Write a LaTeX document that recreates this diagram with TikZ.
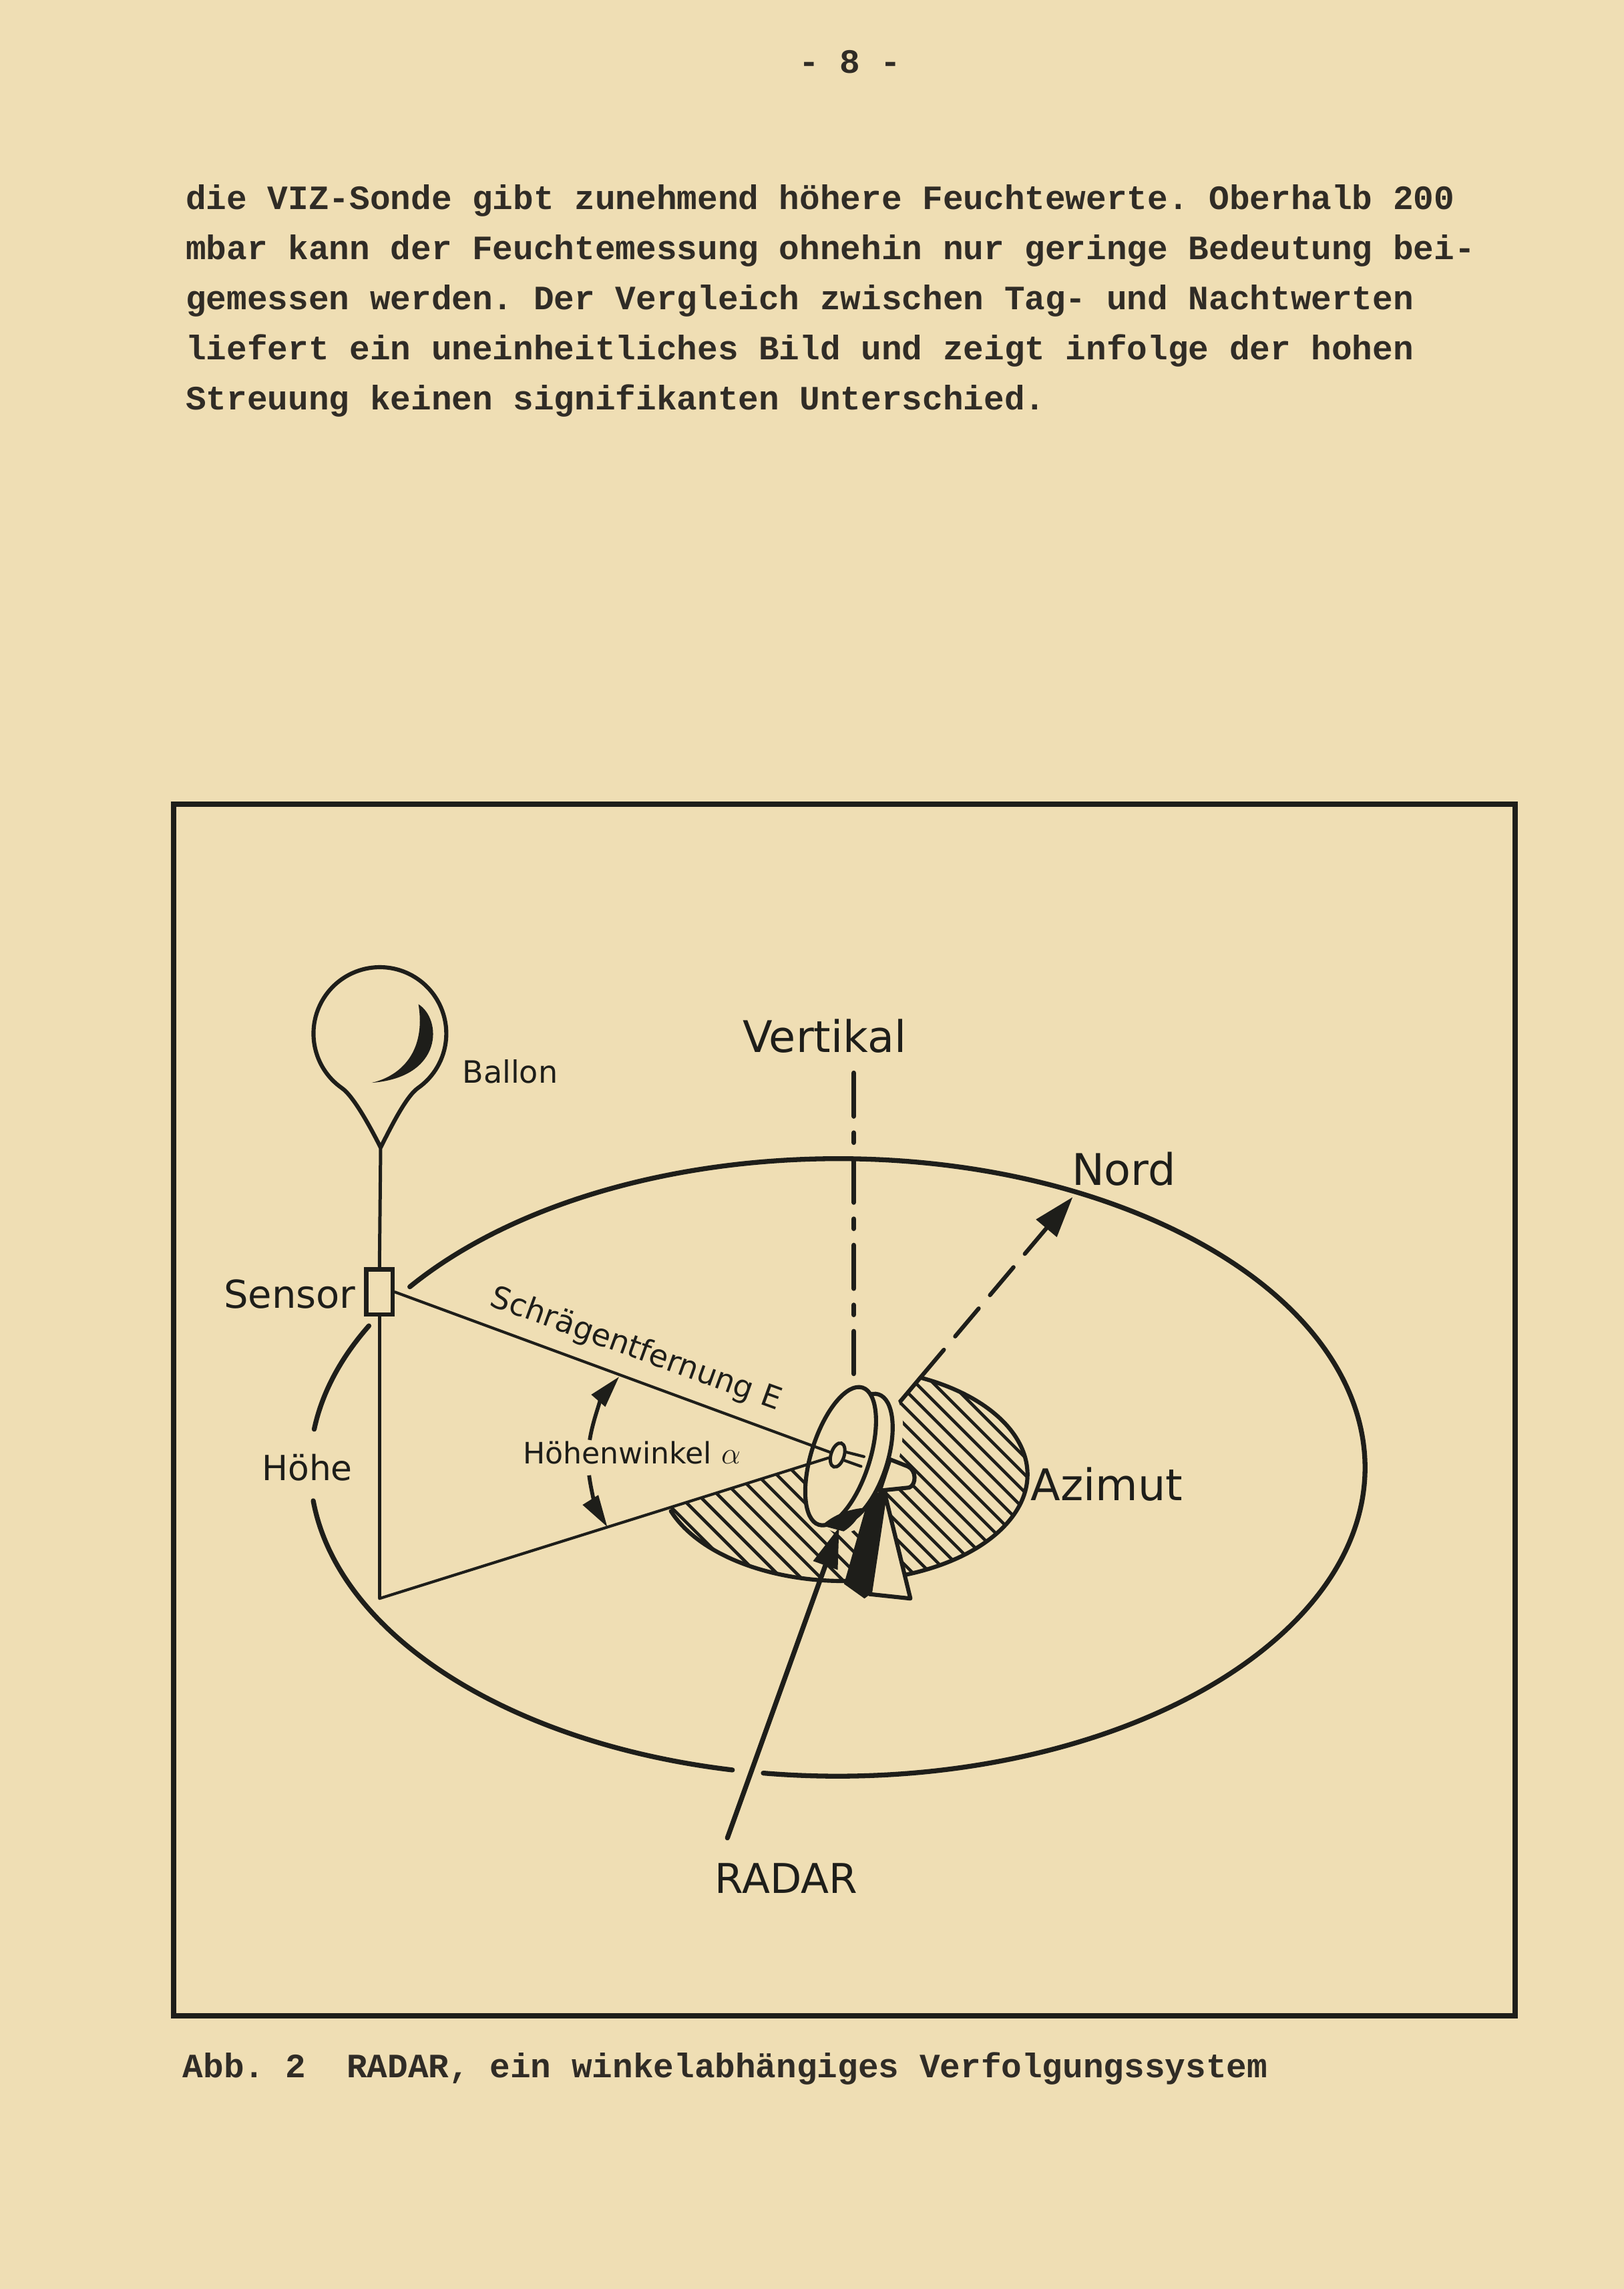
\documentclass[tikz,border=0pt]{standalone}
\usepackage{fontspec}
\setmainfont{DejaVu Sans}
\newfontfamily\typewriter{Liberation Mono}
\usetikzlibrary{arrows.meta,shapes.geometric}
\definecolor{paper}{RGB}{239,222,180}
\definecolor{ink}{RGB}{30,30,26}
\definecolor{typeink}{RGB}{48,44,38}
\tikzset{inkheavy/.style={line width=1.9pt,draw=ink,line cap=round},
  inkmid/.style={line width=1.6pt,draw=ink,line cap=round,line join=round},
  inkthin/.style={line width=1.1pt,draw=ink,line cap=round},
  hatchln/.style={line width=1.2pt,draw=ink},
  lbl/.style={inner sep=0pt,text=ink},
  typed/.style={inner sep=0pt,text=typeink,anchor=base west,font=\typewriter\bfseries\frenchspacing\fontsize{13.3}{16}\selectfont}}

\begin{document}
\begin{tikzpicture}[x=0.02cm,y=-0.02cm]
\fill[paper] (0,0) rectangle (1112.7,1568);
\node[typed] (pagenum) at (547,50.2) {- 8 -};
\node[typed] (line1) at (127,143.3) {die VIZ-Sonde gibt zunehmend höhere Feuchtewerte. Oberhalb 200};
\node[typed] (line2) at (127,177.6) {mbar kann der Feuchtemessung ohnehin nur geringe Bedeutung bei-};
\node[typed] (line3) at (127,211.9) {gemessen werden. Der Vergleich zwischen Tag- und Nachtwerten};
\node[typed] (line4) at (127,246.2) {liefert ein uneinheitliches Bild und zeigt infolge der hohen};
\node[typed] (line5) at (127,280.5) {Streuung keinen signifikanten Unterschied.};
\node[typed] (caption) at (125,1423) {Abb. 2~~RADAR, ein winkelabhängiges Verfolgungssystem};

\draw[line width=2pt,draw=ink] (119,551) rectangle (1038,1381);

% ground ellipse
\coordinate (field) at (573.9,1005.2);
\draw[inkheavy] (field) ++(-144.2:361.4 and 211.5) arc[start angle=-144.2,end angle=98.1,x radius=361.4,y radius=211.5];
\draw[inkheavy] (field) ++(101.5:361.4 and 211.5) arc[start angle=101.5,end angle=173.8,x radius=361.4,y radius=211.5];
\draw[inkheavy] (field) ++(187.1:361.4 and 211.5) arc[start angle=187.1,end angle=207.3,x radius=361.4,y radius=211.5];

% balloon
\coordinate (neck) at (260.8,786);
\coordinate (foot) at (260,1095);
\draw[inkmid,fill=paper] (neck) .. controls (254,772.6) and (242.4,751) .. (234.2,745.3)
  arc[start angle=125,end angle=415,radius=45.5]
  .. controls (278.2,751) and (267.6,772.6) .. (neck);
\fill[ink] (286.7,687.9) .. controls (303,698) and (304,738) .. (254.7,741.7)
  .. controls (275,737) and (292,720) .. (286.7,687.9) -- cycle;
\node[draw=ink,line width=1.7pt,fill=paper,minimum width=0.36cm,minimum height=0.62cm,inner sep=0pt] (sensor) at (260,885) {};
\draw[line width=1.3pt,draw=ink] (neck) -- (sensor.north);
\draw[line width=1.3pt,draw=ink] (sensor.south) -- (foot);

% azimuth sectors
\coordinate (azc) at (578,1010);
\coordinate (az) at (589,993);
\coordinate (north) at (735,820);
\coordinate (azedge) at (630.6,943.7);
\begin{scope}
  \clip (azc) ellipse [x radius=126,y radius=73];
  \clip (250,1098.1) -- (az) -- (589,1200) -- (250,1200) -- cycle;
  \foreach \k in {-640,-626.5,...,-390}
    \draw[hatchln] (\k+900,900) -- (\k+1100,1100);
\end{scope}
\begin{scope}
  \clip (azc) ellipse [x radius=126,y radius=73];
  \clip (az) -- (north) -- (900,820) -- (900,1200) -- (589,1200) -- cycle;
  \foreach \k in {-500,-488,...,-220}
    \draw[hatchln] (\k+900,900) -- (\k+1100,1100);
\end{scope}
\draw[inkmid] (azc) ++(-65.3:126 and 73) arc[start angle=-65.3,end angle=159.9,x radius=126,y radius=73];
\draw[inkmid] (az) -- (azedge);
\draw[inkmid,dash pattern=on 0.5cm off 0.24cm,-{Triangle[length=0.56cm,width=0.36cm]}] (azedge) -- (north);

% vertical
\coordinate (vtop) at (585,735);
\coordinate (vbot) at (585,941);
\draw[inkheavy,dash pattern=on 0.593cm off 0.227cm on 0.133cm off 0.227cm] (vtop) -- (vbot);

% radar
\draw[line width=8pt,draw=paper,rotate around={-17.7:(588,999)}] (588,999) ellipse [x radius=20,y radius=46];
\draw[inkmid,fill=paper] (609.8,999.7) -- (622,1004.5) .. controls (628,1007) and (628,1017) .. (623,1019) -- (602.8,1021.1) -- cycle;
\draw[inkmid,fill=paper] (606,1022) -- (623.8,1095) -- (595.8,1092) -- cycle;
\fill[ink] (596,1023) -- (608,1021.5) -- (597.6,1091) -- (592.3,1095) -- (578.3,1085) -- cycle;
\draw[inkmid,fill=paper,rotate around={-17.7:(588,999)}] (588,999) ellipse [x radius=20,y radius=46];
\draw[inkmid,fill=paper,rotate around={-17.7:(576,997.5)}] (576,997.5) ellipse [x radius=20,y radius=49.3];
\fill[ink] (563,1045) .. controls (572,1037) and (582,1034) .. (591,1033) .. controls (588,1041) and (583,1046) .. (578,1049) -- cycle;
\draw[inkthin] (579,994.5) -- (592,997.8);
\draw[inkthin] (578.8,1000.5) -- (590,1004.5);
\node[draw=ink,line width=1.3pt,fill=paper,ellipse,minimum width=0.18cm,minimum height=0.34cm,inner sep=0pt,rotate=-17.7] (feed) at (573.9,996.7) {};
\draw[inkthin] (sensor.east) -- (feed);
\draw[inkthin] (foot) -- (feed);
\coordinate (rfoot) at (498.4,1259);
\coordinate (rtip) at (575,1046);
\draw[inkheavy,-{Triangle[length=0.56cm,width=0.34cm]}] (rfoot) -- (rtip);

% elevation angle
\coordinate (angc) at (490,1000);
\draw[line width=1.5pt,draw=ink,-{Triangle[length=0.44cm,width=0.24cm]}] (angc) ++(189:87) arc[start angle=189,end angle=221,radius=87];
\draw[line width=1.5pt,draw=ink,-{Triangle[length=0.44cm,width=0.24cm]}] (angc) ++(173:87) arc[start angle=173,end angle=148,radius=87];

% labels
\node[lbl,anchor=base west,font=\fontsize{12}{14}\selectfont] (ballon) at (316.5,742) {Ballon};
\node[lbl,anchor=base east,font=\fontsize{15}{18}\selectfont] (sensorlbl) at (244,896) {Sensor};
\node[lbl,anchor=base,font=\fontsize{13.5}{16}\selectfont] (hoehe) at (210.5,1014) {Höhe};
\node[lbl,anchor=base,font=\fontsize{17}{20}\selectfont] (vertikal) at (565,721) {Vertikal};
\node[lbl,anchor=base west,font=\fontsize{17}{20}\selectfont] (nord) at (734,812) {Nord};
\node[lbl,anchor=base west,font=\fontsize{17}{20}\selectfont] (azimut) at (706,1028) {Azimut};
\node[lbl,anchor=base,font=\fontsize{16}{19}\selectfont] (radar) at (538.7,1297) {RADAR};
\node[lbl,anchor=base west,font=\fontsize{11.5}{14}\selectfont] (winkel) at (357.9,1002.8) {Höhenwinkel $\alpha$};
\node[lbl,rotate=-20,font=\fontsize{12}{14}\selectfont] (schraeg) at (435.6,924.6) {Schrägentfernung E};
\end{tikzpicture}
\end{document}
